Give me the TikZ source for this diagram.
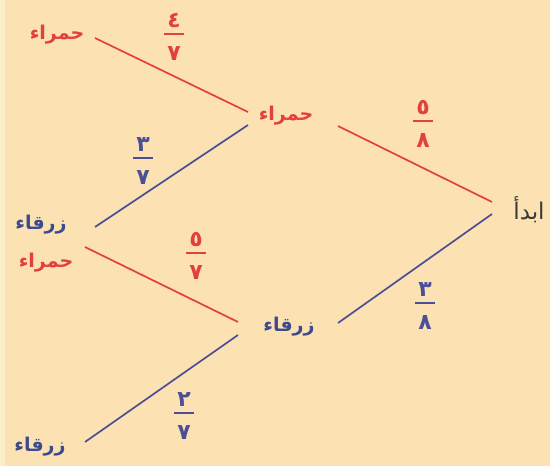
\documentclass[tikz,border=0pt]{standalone}
\usepackage{fontspec}
\newfontfamily\arabicfont[Script=Arabic]{DejaVu Sans}
\TeXXeTstate=1
\definecolor{bg}{HTML}{FCE2B2}
\definecolor{edgestrip}{HTML}{FBEFC8}
\definecolor{rd}{HTML}{E2403C}
\definecolor{bl}{HTML}{4B4F96}
\definecolor{bltext}{HTML}{3C4A8E}
\definecolor{tx}{HTML}{3A3A3A}
\tikzset{
  lbl/.style={font=\arabicfont\bfseries\fontsize{19}{21}\selectfont, inner sep=0pt},
  redlbl/.style={lbl, text=rd},
  bluelbl/.style={lbl, text=bltext},
  redline/.style={draw=rd, line width=1.7pt},
  blueline/.style={draw=bl, line width=1.7pt},
  fbar/.style={fill=#1, minimum width=20pt, minimum height=1.4pt, inner sep=0pt},
  fnum/.style={font=\arabicfont\bfseries\fontsize{22}{24}\selectfont, text=#1, inner sep=0pt, anchor=south, yshift=5pt},
  fden/.style={font=\arabicfont\bfseries\fontsize{22}{24}\selectfont, text=#1, inner sep=0pt, anchor=north, yshift=-11pt},
}
\begin{document}
\begin{tikzpicture}[x=1pt,y=-1pt]
\useasboundingbox (0,0) rectangle (550,466);
\fill[bg] (0,0) rectangle (550,466);
\fill[edgestrip] (0,0) rectangle (5,466);
% nodes
\node[lbl, text=tx, font=\arabicfont\fontsize{23}{25}\selectfont] (start) at (529,210) {\beginR ابدأ\endR};
\node[redlbl] (r1) at (286,116) {\beginR حمراء\endR};
\node[bluelbl] (b1) at (289,327) {\beginR زرقاء\endR};
\node[redlbl] (r2) at (57,35) {\beginR حمراء\endR};
\node[bluelbl] (b2) at (41,225) {\beginR زرقاء\endR};
\node[redlbl] (r3) at (46,263) {\beginR حمراء\endR};
\node[bluelbl] (b3) at (40,447) {\beginR زرقاء\endR};
% connectors
\draw[redline] ([xshift=-37pt,yshift=8pt]start.center) -- ([xshift=52pt,yshift=-10pt]r1.center);
\draw[blueline] ([xshift=-37pt,yshift=-4pt]start.center) -- ([xshift=49pt,yshift=4pt]b1.center);
\draw[redline] ([xshift=-38pt,yshift=4pt]r1.center) -- ([xshift=38pt,yshift=-3pt]r2.center);
\draw[blueline] ([xshift=-38pt,yshift=-9pt]r1.center) -- ([xshift=54pt,yshift=-2pt]b2.center);
\draw[redline] ([xshift=-51pt,yshift=5pt]b1.center) -- ([xshift=39pt,yshift=16pt]r3.center);
\draw[blueline] ([xshift=-51pt,yshift=-8pt]b1.center) -- ([xshift=45pt,yshift=5pt]b3.center);
% fractions
\node[fbar=rd] (f58) at (423,121) {};
\node[fnum=rd] (f58n) at (f58.north) {٥};
\node[fden=rd] (f58d) at (f58.south) {٨};
\node[fbar=bl] (f38) at (425,303) {};
\node[fnum=bl] (f38n) at (f38.north) {٣};
\node[fden=bl] (f38d) at (f38.south) {٨};
\node[fbar=rd] (f47) at (174,34) {};
\node[fnum=rd] (f47n) at (f47.north) {٤};
\node[fden=rd] (f47d) at (f47.south) {٧};
\node[fbar=bl] (f37) at (143,158) {};
\node[fnum=bl] (f37n) at (f37.north) {٣};
\node[fden=bl] (f37d) at (f37.south) {٧};
\node[fbar=rd] (f57) at (196,253) {};
\node[fnum=rd] (f57n) at (f57.north) {٥};
\node[fden=rd] (f57d) at (f57.south) {٧};
\node[fbar=bl] (f27) at (184,413) {};
\node[fnum=bl] (f27n) at (f27.north) {٢};
\node[fden=bl] (f27d) at (f27.south) {٧};
\end{tikzpicture}
\end{document}
